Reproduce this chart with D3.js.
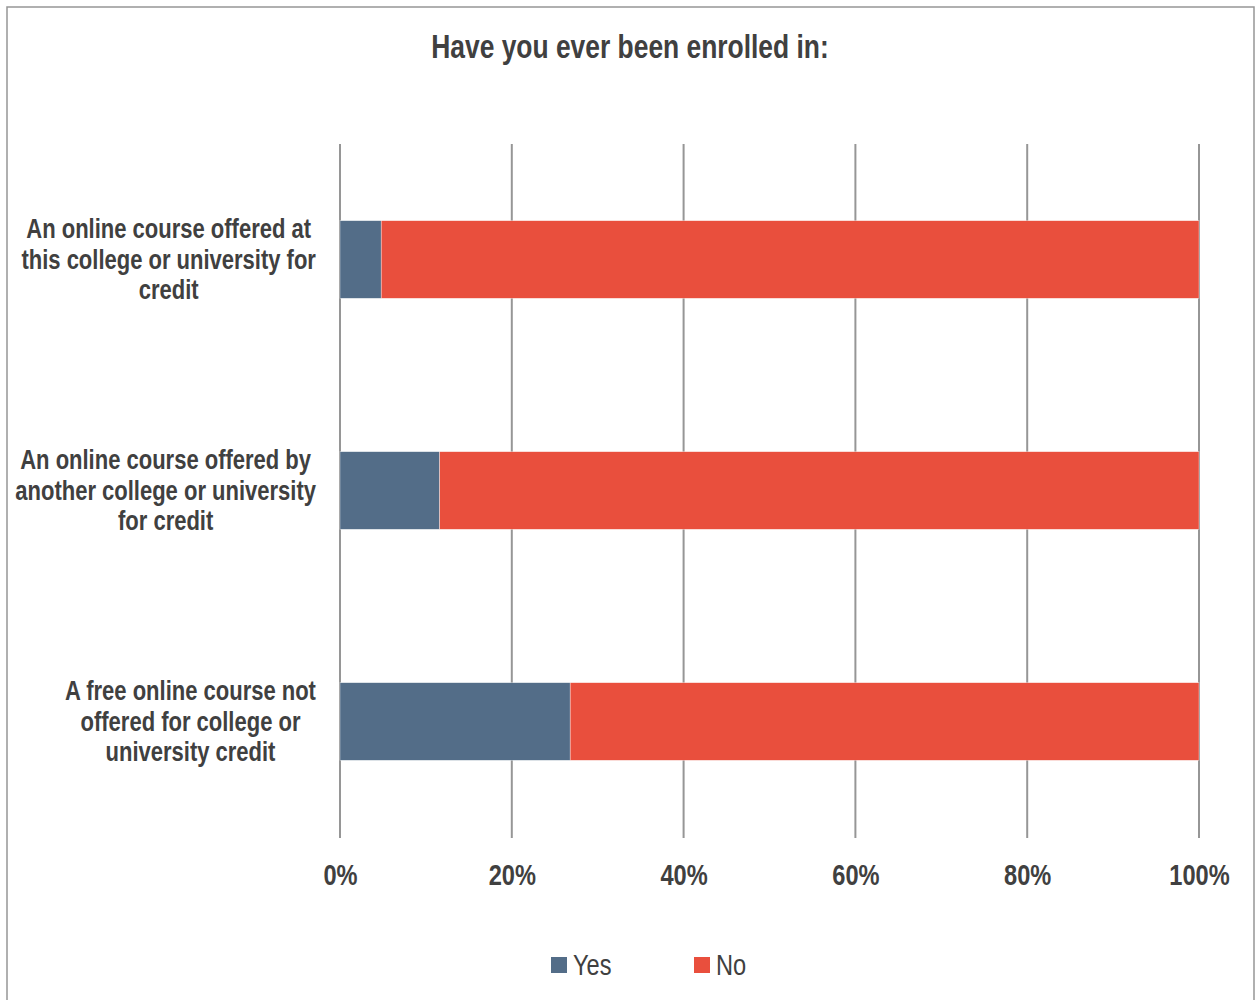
<!DOCTYPE html>
<html><head><meta charset="utf-8">
<script src="https://cdn.jsdelivr.net/npm/d3@7/dist/d3.min.js"></script>
<style>body{margin:0;background:#fff}</style>
</head><body>
<svg id="c" width="1255" height="1000"></svg>
<script>
const categories = [
  ["An online course offered at", "this college or university for", "credit"],
  ["An online course offered by", "another college or university", "for credit"],
  ["A free online course not", "offered for college or", "university credit"]
];
const seriesNames = ["Yes", "No"];
const yesValues = [4.8, 11.6, 26.8];
const noValues = [95.2, 88.4, 73.2];
const tickValues = [0, 20, 40, 60, 80, 100];
const colors = ["#536D88", "#E94F3D"];
const FONT = "'Liberation Sans',Arial,sans-serif";
const SX = 0.8; // narrow face emulation
const TXT = "#404040";

const svg = d3.select("#c");
svg.append("rect").attr("x", 7).attr("y", 7).attr("width", 1247).attr("height", 1000)
  .attr("fill", "#fff").attr("stroke", "#969696").attr("stroke-width", 1.5);

const x = d3.scaleLinear().domain([0, 100]).range([340, 1199]);
const y = d3.scaleBand().domain(d3.range(categories.length)).range([144, 837]).paddingInner(0.664).paddingOuter(0.332);

svg.append("text").attr("transform", `translate(630,58) scale(${SX},1)`).attr("text-anchor", "middle")
  .attr("font-family", FONT).attr("font-weight", "bold").attr("font-size", 33)
  .attr("fill", TXT).text("Have you ever been enrolled in:");

// gridlines
svg.append("g").selectAll("line").data(tickValues).join("line")
  .attr("x1", d => x(d)).attr("x2", d => x(d)).attr("y1", 144).attr("y2", 838)
  .attr("stroke", "#969696").attr("stroke-width", 2);

// bars
const stacked = categories.map((c, i) => [
  { s: 0, x0: 0, x1: yesValues[i], i },
  { s: 1, x0: yesValues[i], x1: yesValues[i] + noValues[i], i }
]).flat();
svg.append("g").selectAll("rect").data(stacked).join("rect")
  .attr("x", d => x(d.x0)).attr("width", d => x(d.x1) - x(d.x0))
  .attr("y", d => y(d.i)).attr("height", y.bandwidth())
  .attr("fill", d => colors[d.s]).attr("stroke", "#fff").attr("stroke-width", 0.6).attr("stroke-opacity", 0.6);

// axis tick labels
const xAxis = d3.axisBottom(x).tickValues(tickValues).tickFormat(d => d + "%").tickSize(0).tickPadding(0);
const ax = svg.append("g").attr("transform", "translate(0,885)").call(xAxis);
ax.select(".domain").remove();
ax.selectAll("text").attr("y", 0).attr("dy", null).attr("transform", `scale(${SX},1)`)
  .attr("font-family", FONT).attr("font-weight", "bold").attr("font-size", 29.5)
  .attr("fill", TXT);

// category labels: right-aligned block, centered lines
const lab = svg.append("g");
categories.forEach((lines, i) => {
  const g = lab.append("g");
  const cy = y(i) + y.bandwidth() / 2;
  const lh = 30.5;
  const texts = lines.map((l, j) => g.append("text")
    .attr("font-family", FONT).attr("font-weight", "bold").attr("font-size", 27.5)
    .attr("fill", TXT).attr("text-anchor", "middle").text(l));
  const maxW = d3.max(texts, t => t.node().getComputedTextLength()) * SX;
  const cx = 316 - maxW / 2;
  texts.forEach((t, j) => t.attr("transform",
    `translate(${cx},${cy + 9 + (j - (lines.length - 1) / 2) * lh}) scale(${SX},1)`));
});

// legend
const legX = [551, 694];
const leg = svg.append("g");
seriesNames.forEach((n, i) => {
  leg.append("rect").attr("x", legX[i]).attr("y", 957).attr("width", 16).attr("height", 16).attr("fill", colors[i]);
  leg.append("text").attr("transform", `translate(${legX[i] + 22},975) scale(${SX},1)`)
    .attr("font-family", FONT).attr("font-size", 29.5).attr("fill", TXT).text(n);
});
</script>
</body></html>
